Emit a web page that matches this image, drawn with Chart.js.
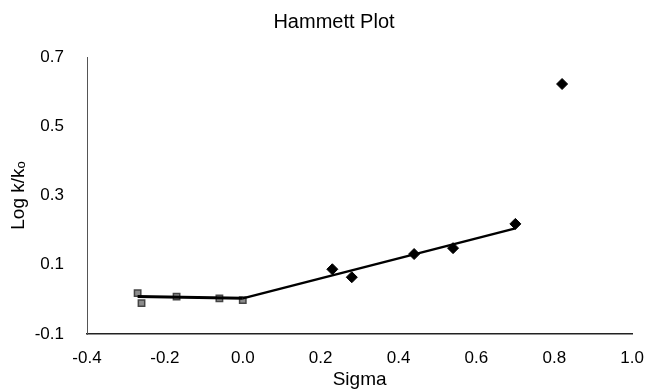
<!DOCTYPE html>
<html>
<head>
<meta charset="utf-8">
<script src="https://cdn.jsdelivr.net/npm/chart.js@4"></script>
<style>
  html, body { margin: 0; padding: 0; background: #fff; }
  #wrap { width: 650px; height: 391px; }
</style>
</head>
<body>
<div id="wrap"><canvas id="hammett"></canvas></div>
<script>
// sigma < 0 substituents (squares)
var sigmaNeg = [-0.27, -0.26, -0.17, -0.06, 0.0];
var logNeg = [0.018, -0.011, 0.008, 0.003, -0.002];
// sigma > 0 substituents (diamonds)
var sigmaPos = [0.23, 0.28, 0.44, 0.54, 0.70, 0.82];
var logPos = [0.087, 0.064, 0.131, 0.148, 0.218, 0.622];
// the two fit lines
var fitNegX = [-0.27, 0.0];
var fitNegY = [0.008, 0.003];
var fitPosX = [0.0, 0.70];
var fitPosY = [0.003, 0.205];

var xTicks = [-0.4, -0.2, 0.0, 0.2, 0.4, 0.6, 0.8, 1.0];
var yTicks = [-0.1, 0.1, 0.3, 0.5, 0.7];

const pts = (xs, ys) => xs.map((x, i) => ({ x: x, y: ys[i] }));

Chart.defaults.font.family = "'Liberation Sans', Arial, 'DejaVu Sans', sans-serif";
Chart.defaults.color = '#000';

var ctx = document.getElementById('hammett').getContext('2d');
var chart = new Chart(ctx, {
    type: 'scatter',
    data: {
        datasets: [
            {
                label: 'EWG',
                data: pts(sigmaPos, logPos),
                pointStyle: 'rectRot',
                pointRadius: 5.5,
                backgroundColor: '#000',
                borderColor: '#000',
                borderWidth: 1,
                order: 0
            },
            {
                label: 'fit 1',
                type: 'line',
                data: pts(fitNegX, fitNegY),
                borderColor: '#000',
                borderWidth: 3,
                pointRadius: 0,
                fill: false,
                order: 1
            },
            {
                label: 'fit 2',
                type: 'line',
                data: pts(fitPosX, fitPosY),
                borderColor: '#000',
                borderWidth: 2.5,
                pointRadius: 0,
                fill: false,
                order: 1
            },
            {
                label: 'EDG',
                data: pts(sigmaNeg, logNeg),
                pointStyle: 'rect',
                pointRadius: 4.5,
                backgroundColor: '#8c8c8c',
                borderColor: '#444',
                borderWidth: 1.5,
                order: 2
            }
        ]
    },
    options: {
        responsive: true,
        maintainAspectRatio: false,
        animation: false,
        // left padding pushes the title centre right, like the original
        layout: { padding: { left: 18, right: 0, top: 0, bottom: 0 } },
        plugins: {
            legend: { display: false },
            tooltip: { enabled: false },
            title: {
                display: true,
                text: 'Hammett Plot',
                font: { size: 20, weight: 'normal' },
                padding: { top: 10, bottom: 23 }
            }
        },
        scales: {
            x: {
                type: 'linear',
                min: -0.4,
                max: 1.0,
                afterBuildTicks: (s) => { s.ticks = xTicks.map(v => ({ value: v })); },
                afterFit: (s) => { s.height = 57; },
                grid: { display: false },
                border: { display: true, color: '#222', width: 1.5 },
                ticks: {
                    font: { size: 17 },
                    padding: 6,
                    maxRotation: 0,
                    callback: (v) => Number(v).toFixed(1)
                },
                title: {
                    display: true,
                    text: 'Sigma',
                    font: { size: 19 },
                    padding: { top: 0, bottom: 0 }
                }
            },
            y: {
                type: 'linear',
                min: -0.1,
                max: 0.7,
                afterBuildTicks: (s) => { s.ticks = yTicks.map(v => ({ value: v })); },
                afterFit: (s) => { s.width = 69; },
                grid: { display: false },
                border: { display: true, color: '#555', width: 1 },
                ticks: {
                    font: { size: 17 },
                    padding: 15,
                    callback: (v) => Number(v).toFixed(1)
                },
                title: {
                    display: true,
                    text: 'Log k/kₒ',
                    font: { size: 19 },
                    padding: { top: -11, bottom: 0 }
                }
            }
        }
    }
});
</script>
</body>
</html>
